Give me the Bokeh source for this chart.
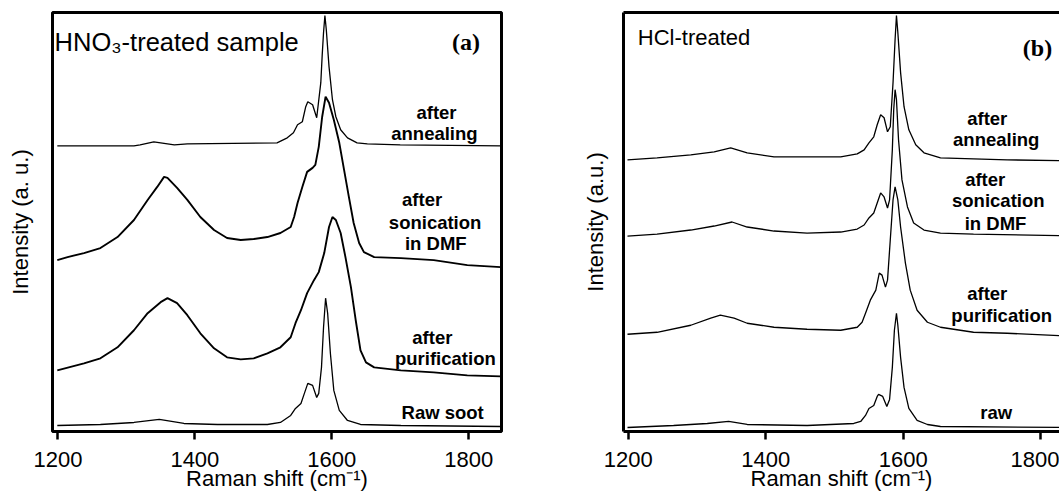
from bokeh.plotting import figure
from bokeh.models import ColumnDataSource, FixedTicker, LinearAxis, Range1d
from bokeh.layouts import row
from bokeh.embed import file_html
from bokeh.resources import INLINE
from bokeh.core.properties import value

FONT = "Liberation Sans"

# ---------------- Panel (a): HNO3-treated sample ----------------
a_anneal_x = [1199, 1311, 1320, 1340, 1370, 1389, 1520, 1535, 1544, 1550, 1557, 1562, 1565, 1572, 1578,
              1584, 1586, 1588, 1590, 1592, 1596, 1601, 1606, 1613, 1623, 1637, 1652, 1700, 1847]
a_anneal_y = [285, 285, 286, 289, 286, 287, 288, 293, 298, 306, 309, 324, 329, 326, 313,
              348, 375, 398, 415, 401, 364, 331, 314, 301, 293, 288, 287, 286, 285]

a_sonic_x = [1199, 1214, 1238, 1262, 1287, 1311, 1331, 1345, 1355, 1360, 1374, 1389, 1408, 1428, 1447,
             1467, 1486, 1506, 1525, 1540, 1545, 1550, 1557, 1564, 1572, 1576, 1581, 1586, 1591, 1596,
             1603, 1611, 1618, 1625, 1632, 1640, 1647, 1662, 1701, 1749, 1798, 1847]
a_sonic_y = [171, 174, 178, 183, 194, 211, 231, 244, 254, 253, 243, 231, 214, 201, 193,
             191, 192, 194, 198, 204, 214, 228, 244, 259, 263, 266, 284, 314, 334, 328,
             311, 288, 261, 234, 208, 188, 179, 174, 173, 171, 166, 164]

a_purif_x = [1199, 1238, 1262, 1287, 1311, 1331, 1350, 1360, 1374, 1389, 1408, 1428, 1447, 1467, 1486,
             1506, 1525, 1540, 1547, 1555, 1564, 1574, 1581, 1589, 1596, 1601, 1606, 1613, 1620, 1628,
             1635, 1642, 1650, 1662, 1701, 1749, 1798, 1847]
a_purif_y = [61, 68, 73, 84, 101, 118, 129, 133, 128, 116, 98, 83, 74, 72, 73,
             78, 84, 94, 108, 121, 138, 151, 159, 178, 204, 214, 211, 198, 174, 144,
             111, 81, 69, 64, 61, 59, 56, 55]

a_raw_x = [1199, 1262, 1311, 1348, 1384, 1433, 1506, 1525, 1540, 1547, 1555, 1560, 1565, 1572, 1578,
           1581, 1585, 1588, 1591, 1594, 1598, 1603, 1611, 1623, 1642, 1701, 1847]
a_raw_y = [6, 7, 9, 12, 8, 7, 7, 9, 16, 23, 28, 38, 48, 46, 34,
           38, 64, 104, 133, 118, 78, 41, 21, 11, 7, 6, 5]

a_label_text = ["after", "annealing", "after", "sonication", "in DMF", "after", "purification", "Raw soot"]
a_label_x = [1753, 1750, 1732, 1751, 1752, 1747, 1766, 1762]
a_label_y = [318, 297, 231, 209, 188, 94, 73, 19]

# ---------------- Panel (b): HCl-treated ----------------
b_anneal_x = [1199, 1242, 1291, 1325, 1349, 1373, 1412, 1460, 1509, 1533, 1543, 1550, 1557, 1562, 1567,
              1572, 1577, 1581, 1585, 1588, 1590, 1592, 1596, 1601, 1608, 1618, 1630, 1654, 1702, 1751, 1850]
b_anneal_y = [271, 273, 276, 279, 283, 278, 274, 274, 274, 277, 281, 288, 294, 306, 316,
              313, 299, 304, 348, 391, 415, 398, 358, 324, 301, 286, 278, 273, 272, 271, 270]

b_sonic_x = [1199, 1242, 1291, 1325, 1351, 1373, 1412, 1460, 1509, 1533, 1543, 1550, 1557, 1562, 1567,
             1572, 1577, 1580, 1584, 1586, 1588, 1590, 1593, 1598, 1606, 1615, 1630, 1654, 1702, 1850]
b_sonic_y = [195, 197, 201, 205, 209, 204, 200, 198, 199, 202, 206, 213, 218, 228, 238,
             234, 223, 231, 281, 321, 341, 331, 291, 251, 224, 208, 201, 198, 197, 195]

b_purif_x = [1199, 1242, 1291, 1320, 1334, 1354, 1373, 1412, 1460, 1509, 1533, 1540, 1545, 1552, 1560,
             1565, 1569, 1574, 1577, 1581, 1585, 1588, 1592, 1596, 1603, 1610, 1620, 1635, 1654, 1702,
             1751, 1850]
b_purif_y = [97, 99, 106, 113, 116, 113, 108, 104, 102, 101, 104, 109, 118, 131, 141,
             158, 156, 144, 151, 191, 231, 244, 231, 204, 168, 141, 121, 109, 104, 99,
             98, 95]

b_raw_x = [1199, 1266, 1315, 1346, 1373, 1460, 1528, 1538, 1545, 1550, 1557, 1562, 1564, 1570, 1576,
           1580, 1584, 1587, 1590, 1592, 1596, 1601, 1608, 1620, 1635, 1654, 1850]
b_raw_y = [4, 6, 8, 10, 7, 6, 8, 10, 16, 23, 26, 35, 37, 35, 25,
           32, 64, 101, 118, 106, 74, 44, 23, 11, 7, 5, 4]

b_label_text = ["after", "annealing", "after", "sonication", "in DMF", "after", "purification", "raw"]
b_label_x = [1722, 1735, 1719, 1738, 1734, 1722, 1743, 1735]
b_label_y = [312, 291, 251, 230, 208, 138, 116, 19]

x_ticks = [1200, 1400, 1600, 1800]


def make_panel(xr, curves, noisy, lab_x, lab_y, lab_text, title, title_x, title_y, title_size,
               tag, tag_x, tag_y, ylabel, width, border_left, border_right, ylab_standoff, full_outline):
    p = figure(width=width, height=493, x_range=Range1d(*xr), y_range=Range1d(0, 418),
               output_backend="svg", toolbar_location=None,
               min_border_left=border_left, min_border_right=border_right,
               min_border_top=12, min_border_bottom=55)
    p.grid.visible = False
    p.background_fill_color = "white"
    p.border_fill_color = "white"

    for (cx, cy), nz in zip(curves, noisy):
        p.line(cx, cy, line_color="black", line_width=1.9 if nz else 1.3)

    src = ColumnDataSource(dict(x=lab_x, y=lab_y, t=lab_text))
    p.text("x", "y", text="t", source=src, text_align="center", text_baseline="middle",
           text_font=value(FONT), text_font_style="bold", text_font_size="18.5px", text_color="black")

    p.text(x=[title_x], y=[title_y], text=[title], text_align="left", text_baseline="middle",
           text_font=value(FONT), text_font_size=title_size, text_color="black")
    p.text(x=[tag_x], y=[tag_y], text=[tag], text_align="center", text_baseline="middle",
           text_font=value("Liberation Serif"), text_font_style="bold", text_font_size="24px",
           text_color="black")

    xa = p.xaxis[0]
    xa.ticker = FixedTicker(ticks=x_ticks)
    xa.minor_tick_line_color = None
    xa.major_tick_in = 0
    xa.major_tick_out = 8
    xa.major_tick_line_width = 2.5
    xa.major_tick_line_color = "black"
    xa.major_label_text_font = FONT
    xa.major_label_text_font_size = "22px"
    xa.major_label_text_color = "black"
    xa.major_label_standoff = 12
    xa.axis_label = "Raman shift (cm⁻¹)"
    xa.axis_label_text_font = FONT
    xa.axis_label_text_font_size = "22px"
    xa.axis_label_text_font_style = "normal"
    xa.axis_label_text_color = "black"
    xa.axis_label_standoff = -4

    ya = p.yaxis[0]
    ya.ticker = FixedTicker(ticks=[])
    ya.minor_tick_line_color = None
    ya.major_tick_line_color = None
    ya.major_label_text_font_size = "0px"
    ya.axis_label = ylabel
    ya.axis_label_text_font = FONT
    ya.axis_label_text_font_size = "22px"
    ya.axis_label_text_font_style = "normal"
    ya.axis_label_text_color = "black"
    ya.axis_label_standoff = ylab_standoff
    ya.major_label_standoff = 0

    if full_outline:
        p.outline_line_color = "black"
        p.outline_line_width = 3
        p.outline_line_alpha = 1.0
        xa.axis_line_color = None
        ya.axis_line_color = None
    else:
        p.outline_line_color = None
        xa.axis_line_color = "black"
        xa.axis_line_width = 3
        ya.axis_line_color = "black"
        ya.axis_line_width = 3
        top = LinearAxis(ticker=FixedTicker(ticks=[]), axis_line_width=3, axis_line_color="black",
                         major_tick_line_color=None, minor_tick_line_color=None,
                         major_label_text_font_size="0px", major_label_standoff=0)
        p.add_layout(top, "above")
    return p


pa = make_panel((1192, 1848),
                [(a_anneal_x, a_anneal_y), (a_sonic_x, a_sonic_y), (a_purif_x, a_purif_y), (a_raw_x, a_raw_y)],
                [False, True, True, False],
                a_label_x, a_label_y, a_label_text,
                "HNO₃-treated sample", 1195, 389, "25.5px",
                "(a)", 1796, 389, "Intensity (a. u.)", 540, 52, 39, 20, True)

pb = make_panel((1193.2, 1827),
                [(b_anneal_x, b_anneal_y), (b_sonic_x, b_sonic_y), (b_purif_x, b_purif_y), (b_raw_x, b_raw_y)],
                [False, False, False, False],
                b_label_x, b_label_y, b_label_text,
                "HCl-treated", 1214, 393, "22px",
                "(b)", 1795, 383, "Intensity (a.u.)", 519, 83, 0, 16, False)

layout = row(pa, pb)
open("out.html", "w").write(file_html(layout, INLINE))
